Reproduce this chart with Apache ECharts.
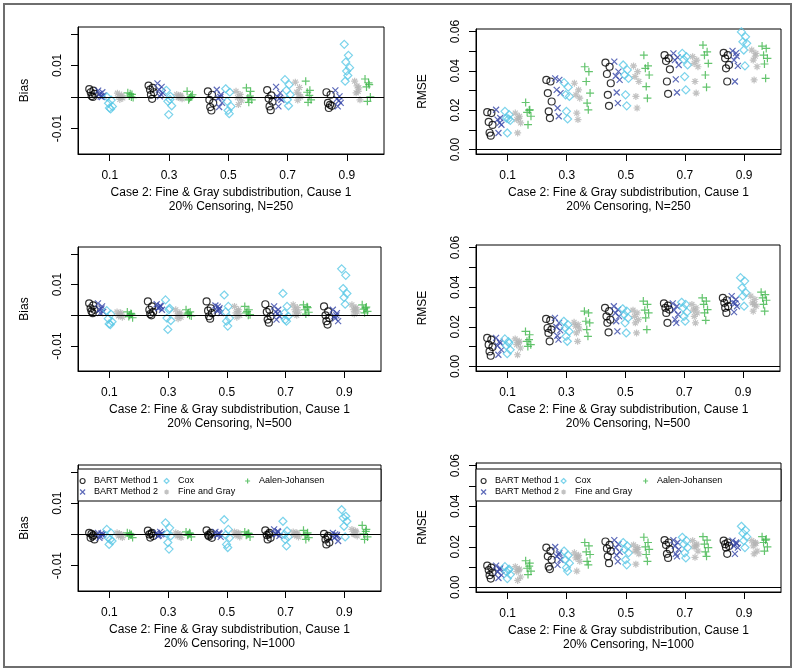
<!DOCTYPE html>
<html>
<head>
<meta charset="utf-8">
<script src="https://cdn.jsdelivr.net/npm/echarts@6/dist/echarts.min.js"></script>
<style>
html,body{margin:0;padding:0;background:#fff;}
#chart{width:800px;height:672px;}
</style>
</head>
<body>
<div id="chart"></div>
<script>
// ---------------- data ----------------
const quantiles = [0.1, 0.3, 0.5, 0.7, 0.9];
const xTickLabels = ['0.1', '0.3', '0.5', '0.7', '0.9'];
const methods = ['BART Method 1', 'BART Method 2', 'Cox', 'Fine and Gray', 'Aalen-Johansen'];
const methodOffset = [-0.06, -0.03, 0, 0.035, 0.07];
const jitter = [-0.009, 0.005, -0.004, 0.009, -0.001, 0.003, -0.006];
const biasTicks = [-0.01, 0, 0.01, 0.02];
const biasLabels = [-0.01, 0.01];
const rmseTicks = [0, 0.01, 0.02, 0.03, 0.04, 0.05, 0.06];
const rmseLabels = [0, 0.02, 0.04, 0.06];
const sampleSizes = [250, 500, 1000];

// ---- N = 250, bias
const bias250_bart1 = [[0.0025,0.0020,0.0015,0.0010,0.0003,0.0000],[0.0036,0.0029,0.0023,0.0015,0.0007,-0.0006],[0.0018,0.0007,-0.0009,-0.0019,-0.0032,-0.0043],[0.0022,0.0005,-0.0005,-0.0015,-0.0030,-0.0042],[0.0015,0.0007,-0.0019,-0.0028,-0.0035,-0.0025]];
const bias250_bart2 = [[0.0020,0.0015,0.0010,0.0005,0.0002,0.0000],[0.0043,0.0032,0.0023,0.0013,0.0002,0.0008],[0.0023,0.0007,-0.0003,-0.0019,-0.0032,0.0000],[0.0032,0.0013,0.0000,-0.0009,-0.0030,-0.0004],[0.0021,0.0002,-0.0006,-0.0019,-0.0030,-0.0012]];
const bias250_cox = [[0.0000,-0.0010,-0.0020,-0.0030,-0.0035,-0.0038],[0.0021,0.0002,-0.0014,-0.0028,-0.0056,-0.0008],[0.0026,0.0015,-0.0014,-0.0030,-0.0043,-0.0053],[0.0055,0.0039,0.0021,0.0007,-0.0009,-0.0028],[0.0167,0.0132,0.0111,0.0093,0.0082,0.0068,0.0050]];
const bias250_fg = [[0.0012,0.0006,0.0002,-0.0003,-0.0008,0.0000],[0.0008,0.0003,-0.0002,-0.0006,0.0000,0.0005],[0.0018,0.0008,-0.0002,-0.0012,-0.0024,0.0000],[0.0047,0.0030,0.0015,0.0000,-0.0010,0.0008],[0.0050,0.0029,0.0013,-0.0009,0.0035,0.0018]];
const bias250_aj = [[0.0013,0.0008,0.0003,-0.0002,0.0010,0.0000],[0.0018,0.0002,-0.0009,0.0007,-0.0004,0.0000],[0.0029,0.0018,-0.0003,-0.0009,-0.0017,0.0003],[0.0050,0.0021,0.0015,-0.0009,-0.0017,0.0005],[0.0057,0.0039,0.0032,0.0000,-0.0014,0.0045]];
// ---- N = 250, RMSE
const rmse250_bart1 = [[0.0190,0.0185,0.0140,0.0125,0.0085,0.0070],[0.0354,0.0346,0.0287,0.0244,0.0194,0.0160],[0.0442,0.0421,0.0384,0.0337,0.0278,0.0222],[0.0480,0.0464,0.0450,0.0408,0.0346,0.0283],[0.0492,0.0480,0.0464,0.0430,0.0413,0.0346]];
const rmse250_bart2 = [[0.0202,0.0160,0.0152,0.0126,0.0084,0.0135],[0.0362,0.0354,0.0303,0.0287,0.0211,0.0169],[0.0447,0.0396,0.0374,0.0354,0.0290,0.0236],[0.0489,0.0469,0.0455,0.0430,0.0357,0.0290],[0.0502,0.0475,0.0455,0.0425,0.0346,0.0490]];
const rmse250_cox = [[0.0194,0.0177,0.0160,0.0148,0.0084,0.0155],[0.0340,0.0317,0.0278,0.0270,0.0194,0.0155],[0.0430,0.0405,0.0379,0.0362,0.0278,0.0222],[0.0489,0.0472,0.0458,0.0430,0.0371,0.0303],[0.0598,0.0573,0.0548,0.0540,0.0506,0.0425]];
const rmse250_fg = [[0.0185,0.0169,0.0152,0.0135,0.0084,0.0160],[0.0337,0.0303,0.0278,0.0261,0.0185,0.0152],[0.0425,0.0396,0.0371,0.0346,0.0270,0.0211],[0.0472,0.0455,0.0438,0.0421,0.0346,0.0287],[0.0506,0.0489,0.0455,0.0421,0.0354,0.0475]];
const rmse250_aj = [[0.0239,0.0202,0.0189,0.0169,0.0126,0.0200],[0.0421,0.0396,0.0346,0.0287,0.0236,0.0202],[0.0480,0.0425,0.0413,0.0379,0.0320,0.0261],[0.0531,0.0497,0.0480,0.0438,0.0379,0.0317],[0.0526,0.0514,0.0480,0.0464,0.0435,0.0362]];
// ---- N = 500, bias
const bias500_bart1 = [[0.0039,0.0032,0.0023,0.0018,0.0013,0.0007],[0.0045,0.0029,0.0018,0.0011,0.0004,0.0000],[0.0045,0.0023,0.0015,0.0007,-0.0003,-0.0011],[0.0036,0.0018,0.0011,-0.0003,-0.0014,-0.0024],[0.0029,0.0013,0.0000,-0.0009,-0.0019,-0.0030]];
const bias500_bart2 = [[0.0039,0.0029,0.0018,0.0011,0.0007,0.0022],[0.0036,0.0029,0.0023,0.0018,0.0025,0.0031],[0.0032,0.0023,0.0015,0.0007,0.0028,0.0018],[0.0029,0.0018,0.0011,-0.0003,-0.0014,0.0006],[0.0018,0.0007,-0.0003,-0.0019,-0.0010,0.0000]];
const bias500_cox = [[0.0015,0.0004,-0.0011,-0.0021,-0.0028,-0.0030],[0.0050,0.0023,-0.0009,-0.0017,-0.0046,0.0018],[0.0066,0.0029,0.0011,-0.0009,-0.0019,-0.0035],[0.0071,0.0029,0.0007,-0.0003,-0.0014,-0.0019],[0.0151,0.0130,0.0087,0.0071,0.0058,0.0036]];
const bias500_fg = [[0.0011,0.0004,-0.0002,-0.0006,0.0000,0.0008],[0.0018,0.0008,0.0000,-0.0006,-0.0011,0.0004],[0.0029,0.0018,0.0008,0.0000,-0.0006,0.0013],[0.0034,0.0025,0.0018,0.0010,0.0004,0.0000],[0.0034,0.0025,0.0018,0.0011,0.0004,0.0021]];
const bias500_aj = [[0.0011,0.0004,-0.0004,-0.0008,0.0000,0.0006],[0.0018,0.0011,0.0004,-0.0002,0.0008,0.0000],[0.0029,0.0018,0.0008,0.0002,0.0013,0.0000],[0.0034,0.0025,0.0018,0.0010,0.0004,0.0028],[0.0034,0.0027,0.0020,0.0013,0.0008,0.0024]];
// ---- N = 500, RMSE
const rmse500_bart1 = [[0.0144,0.0135,0.0110,0.0098,0.0076,0.0054],[0.0240,0.0233,0.0194,0.0186,0.0169,0.0127],[0.0296,0.0279,0.0253,0.0236,0.0220,0.0172],[0.0318,0.0307,0.0296,0.0287,0.0270,0.0220],[0.0346,0.0334,0.0321,0.0304,0.0296,0.0270]];
const rmse500_bart2 = [[0.0144,0.0118,0.0105,0.0084,0.0059,0.0125],[0.0245,0.0220,0.0199,0.0182,0.0155,0.0135],[0.0304,0.0287,0.0270,0.0253,0.0228,0.0177],[0.0318,0.0304,0.0284,0.0262,0.0236,0.0220],[0.0355,0.0338,0.0321,0.0304,0.0274,0.0318]];
const rmse500_cox = [[0.0139,0.0118,0.0105,0.0084,0.0064,0.0125],[0.0228,0.0211,0.0194,0.0177,0.0152,0.0127],[0.0291,0.0279,0.0262,0.0245,0.0220,0.0169],[0.0324,0.0313,0.0296,0.0274,0.0253,0.0228],[0.0448,0.0431,0.0397,0.0372,0.0355,0.0304]];
const rmse500_fg = [[0.0139,0.0127,0.0110,0.0093,0.0059,0.0120],[0.0223,0.0211,0.0203,0.0189,0.0169,0.0127],[0.0284,0.0270,0.0253,0.0236,0.0220,0.0169],[0.0313,0.0296,0.0284,0.0270,0.0253,0.0220],[0.0355,0.0338,0.0321,0.0304,0.0279,0.0313]];
const rmse500_aj = [[0.0177,0.0160,0.0127,0.0110,0.0101,0.0135],[0.0279,0.0270,0.0228,0.0220,0.0186,0.0152],[0.0330,0.0313,0.0284,0.0270,0.0245,0.0186],[0.0346,0.0330,0.0313,0.0287,0.0270,0.0233],[0.0375,0.0363,0.0346,0.0334,0.0313,0.0279]];
// ---- N = 1000, bias
const bias1000_bart1 = [[0.0005,-0.0002,-0.0011,-0.0016,0.0002,-0.0006],[0.0012,0.0005,0.0000,-0.0005,-0.0010,0.0002],[0.0013,0.0005,-0.0002,-0.0011,-0.0006,0.0000],[0.0013,0.0005,-0.0002,-0.0011,-0.0016,0.0000],[0.0002,-0.0005,-0.0016,-0.0026,-0.0032,-0.0010]];
const bias1000_bart2 = [[0.0005,-0.0002,-0.0011,0.0000,-0.0006,0.0003],[0.0005,0.0000,-0.0005,0.0002,-0.0003,0.0008],[0.0008,0.0002,-0.0003,-0.0008,0.0000,0.0005],[0.0016,0.0008,0.0002,-0.0005,0.0000,0.0010],[0.0005,-0.0002,-0.0011,-0.0021,0.0000,-0.0006]];
const bias1000_cox = [[0.0016,0.0005,-0.0011,-0.0021,-0.0032,-0.0016],[0.0037,0.0021,0.0002,-0.0005,-0.0026,-0.0047],[0.0047,0.0016,-0.0002,-0.0011,-0.0032,-0.0042],[0.0042,0.0011,0.0000,-0.0008,-0.0016,-0.0037],[0.0079,0.0058,0.0053,0.0042,0.0026,-0.0008]];
const bias1000_fg = [[0.0005,0.0000,-0.0005,-0.0010,0.0002,-0.0003],[0.0005,0.0000,-0.0005,-0.0010,0.0002,-0.0003],[0.0008,0.0002,-0.0003,-0.0008,0.0000,0.0005],[0.0008,0.0002,-0.0003,-0.0008,0.0000,0.0005],[0.0016,0.0008,0.0002,-0.0005,0.0000,0.0011]];
const bias1000_aj = [[0.0005,0.0000,-0.0005,-0.0010,0.0003,-0.0002],[0.0008,0.0002,-0.0003,-0.0008,0.0000,0.0005],[0.0008,0.0002,-0.0003,-0.0008,0.0000,0.0004],[0.0013,0.0005,-0.0002,-0.0010,-0.0016,0.0000],[0.0029,0.0016,0.0002,-0.0008,-0.0016,0.0010]];
// ---- N = 1000, RMSE
const rmse1000_bart1 = [[0.0107,0.0097,0.0085,0.0073,0.0060,0.0043],[0.0196,0.0179,0.0153,0.0136,0.0102,0.0090],[0.0226,0.0209,0.0192,0.0179,0.0153,0.0119],[0.0233,0.0221,0.0209,0.0187,0.0165,0.0145],[0.0230,0.0221,0.0213,0.0204,0.0196,0.0165]];
const rmse1000_bart2 = [[0.0107,0.0094,0.0077,0.0060,0.0046,0.0088],[0.0199,0.0170,0.0153,0.0136,0.0111,0.0162],[0.0233,0.0213,0.0196,0.0175,0.0158,0.0128],[0.0233,0.0221,0.0204,0.0187,0.0165,0.0153],[0.0230,0.0216,0.0204,0.0196,0.0165,0.0221]];
const rmse1000_cox = [[0.0102,0.0090,0.0077,0.0063,0.0043,0.0085],[0.0179,0.0158,0.0136,0.0119,0.0097,0.0080],[0.0221,0.0204,0.0187,0.0170,0.0136,0.0111],[0.0247,0.0230,0.0213,0.0196,0.0170,0.0145],[0.0301,0.0281,0.0267,0.0250,0.0230,0.0196]];
const rmse1000_fg = [[0.0102,0.0090,0.0077,0.0051,0.0034,0.0085],[0.0170,0.0158,0.0145,0.0128,0.0080,0.0150],[0.0209,0.0196,0.0179,0.0165,0.0114,0.0187],[0.0230,0.0213,0.0199,0.0179,0.0148,0.0204],[0.0230,0.0216,0.0204,0.0179,0.0165,0.0221]];
const rmse1000_aj = [[0.0131,0.0119,0.0094,0.0080,0.0063,0.0105],[0.0221,0.0204,0.0175,0.0162,0.0128,0.0111],[0.0247,0.0221,0.0199,0.0187,0.0162,0.0128],[0.0250,0.0233,0.0213,0.0196,0.0175,0.0153],[0.0250,0.0238,0.0221,0.0199,0.0179,0.0233]];

// ---------------- styling ----------------
const FONT = '"Liberation Sans", Arial, Helvetica, sans-serif';
const colors = ['#000000', '#3445a8', '#5ac8e6', '#b3b3b3', '#3db54a'];
const PATH_X = 'path://M0,0L10,10M10,0L0,10';
const PATH_PLUS = 'path://M5,0L5,10M0,5L10,5';
const PATH_STAR = 'path://M5,0L5,10M0,5L10,5M1.5,1.5L8.5,8.5M8.5,1.5L1.5,8.5';
const symbols = ['circle', PATH_X, 'diamond', PATH_STAR, PATH_PLUS];
const symbolSizes = [7, 6, 8, 7, 8];

const panels = [
  {type:'bias', n:250,  grid:{left:78,  top:27,  width:306, height:127}, sets:[bias250_bart1,bias250_bart2,bias250_cox,bias250_fg,bias250_aj]},
  {type:'rmse', n:250,  grid:{left:476, top:29,  width:305, height:125}, sets:[rmse250_bart1,rmse250_bart2,rmse250_cox,rmse250_fg,rmse250_aj]},
  {type:'bias', n:500,  grid:{left:78,  top:247, width:303, height:124}, sets:[bias500_bart1,bias500_bart2,bias500_cox,bias500_fg,bias500_aj]},
  {type:'rmse', n:500,  grid:{left:476, top:245, width:304, height:126}, sets:[rmse500_bart1,rmse500_bart2,rmse500_cox,rmse500_fg,rmse500_aj]},
  {type:'bias', n:1000, grid:{left:78,  top:465, width:303, height:126}, sets:[bias1000_bart1,bias1000_bart2,bias1000_cox,bias1000_fg,bias1000_aj], legend:true},
  {type:'rmse', n:1000, grid:{left:476, top:463, width:305, height:129}, sets:[rmse1000_bart1,rmse1000_bart2,rmse1000_cox,rmse1000_fg,rmse1000_aj], legend:true}
];

const grids = [], xAxes = [], yAxes = [], series = [], legends = [], graphics = [];

panels.forEach((p, pi) => {
  grids.push(Object.assign({show:true, borderColor:'#000', borderWidth:1, backgroundColor:'transparent'}, p.grid));
  xAxes.push({
    gridIndex: pi, type:'value', min:-0.007, max:1.025,
    axisLine:{show:true, onZero:false, lineStyle:{color:'#000', width:1}},
    splitLine:{show:false},
    axisTick:{show:true, length:7, lineStyle:{color:'#000'}, customValues: quantiles},
    axisLabel:{customValues: quantiles, margin:16, fontSize:12, fontFamily:FONT, color:'#000',
      formatter: v => xTickLabels[quantiles.findIndex(q => Math.abs(q - v) < 1e-9)] || ''},
    name: 'Case 2: Fine & Gray subdistribution, Cause 1\n20% Censoring, N=' + p.n,
    nameLocation:'middle', nameGap:32,
    nameTextStyle:{fontSize:12, fontFamily:FONT, color:'#000', lineHeight:14}
  });
  const isBias = p.type === 'bias';
  yAxes.push({
    gridIndex: pi, type:'value',
    min: isBias ? -0.0181 : -0.0023, max: isBias ? 0.0222 : 0.0613,
    axisLine:{show:true, onZero:false, lineStyle:{color:'#000', width:1}},
    splitLine:{show:false},
    axisTick:{show:true, length:7, lineStyle:{color:'#000'}, customValues: isBias ? biasTicks : rmseTicks},
    axisLabel:{customValues: isBias ? biasLabels : rmseLabels, rotate:90, margin:14, fontSize:12,
      fontFamily:FONT, color:'#000', formatter: v => v.toFixed(2)},
    name: isBias ? 'Bias' : 'RMSE', nameLocation:'middle', nameGap:47,
    nameTextStyle:{fontSize:12, fontFamily:FONT, color:'#000'}
  });
  p.sets.forEach((set, mi) => {
    const data = [];
    set.forEach((vals, qi) => {
      vals.forEach((v, k) => {
        data.push([quantiles[qi] + methodOffset[mi] + jitter[k % jitter.length], v]);
      });
    });
    const s = {
      type:'scatter', name: methods[mi], xAxisIndex: pi, yAxisIndex: pi,
      symbol: symbols[mi], symbolSize: symbolSizes[mi], clip:false,
      itemStyle:{color:'rgba(0,0,0,0)', borderColor: colors[mi], borderWidth:1.2},
      emphasis:{disabled:true}, silent:true, z: 2,
      data
    };
    if (mi === 0) {
      s.markLine = {silent:true, symbol:['none','none'], label:{show:false}, animation:false,
        lineStyle:{color:'#000', width:1, type:'solid'}, data:[{yAxis:0}]};
    }
    series.push(s);
  });

  if (p.legend) {
    const g = p.grid;
    graphics.push({type:'rect', z:3, shape:{x:g.left, y:469, width:g.width, height:32},
      style:{fill:'#fff', stroke:'#000', lineWidth:1}});
    const cols = pi % 2 === 0 ? [79.5, 163.5, 244.5] : [480.5, 560.5, 642.5];
    const groups = [[0, 1], [2, 3], [4]];
    groups.forEach((grp, ci) => {
      legends.push({
        left: cols[ci], top: 475.5, orient:'vertical', itemGap:0, padding:0,
        itemWidth:5, itemHeight:5, selectedMode:false, z:5,
        textStyle:{fontSize:9, fontFamily:FONT, color:'#000', lineHeight:11, padding:[0,0,0,4]},
        data: grp.map(mi => ({
          name: methods[mi], icon: symbols[mi],
          itemStyle:{color:'rgba(0,0,0,0)', borderColor: colors[mi], borderWidth:1.2}
        }))
      });
    });
  }
});

graphics.push({type:'rect', z:0, shape:{x:4, y:4, width:787, height:663},
  style:{fill:'none', stroke:'#6e6e6e', lineWidth:2}});

const chart = echarts.init(document.getElementById('chart'), null, {renderer:'canvas'});
chart.setOption({
  animation:false,
  backgroundColor:'#fff',
  textStyle:{fontFamily:FONT},
  grid: grids, xAxis: xAxes, yAxis: yAxes, series: series,
  legend: legends, graphic: graphics
});
</script>
</body>
</html>
